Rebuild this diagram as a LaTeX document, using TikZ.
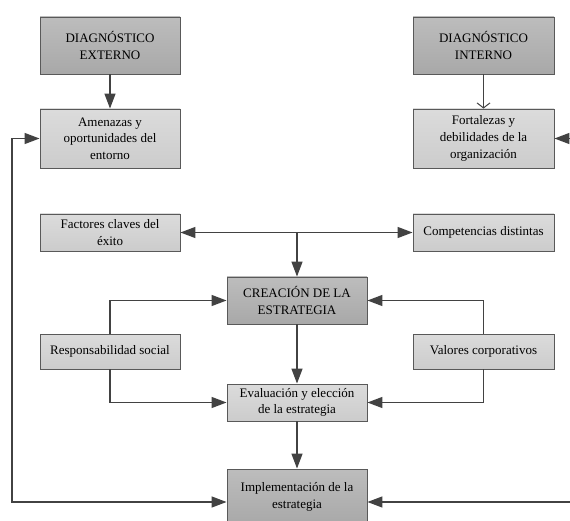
\documentclass[tikz,border=0pt]{standalone}
\usepackage{fontspec}
\setmainfont{Liberation Serif}
\usetikzlibrary{arrows.meta}
\definecolor{litetop}{gray}{0.86}
\definecolor{litebot}{gray}{0.80}
\definecolor{darktop}{gray}{0.74}
\definecolor{darkbot}{gray}{0.66}
\definecolor{edge}{gray}{0.35}
\definecolor{wire}{gray}{0.26}
\begin{document}
\begin{tikzpicture}[x=1pt,y=-1pt,
  box/.style={draw=edge, line width=0.9pt, align=center, inner sep=0pt,
    minimum width=140pt, font=\fontsize{13}{16.7}\selectfont, text=black},
  lite/.style={box, top color=litetop, bottom color=litebot},
  dark/.style={box, top color=darktop, bottom color=darkbot},
  link/.style={draw=wire, line width=1.4pt},
  tip/.style={-{Triangle[length=15pt,width=11pt]}},
  tipboth/.style={{Triangle[length=15pt,width=11pt]}-{Triangle[length=15pt,width=11pt]}},
  barb/.style={draw=wire, line width=1pt, -{Straight Barb[length=5pt,width=13pt]}}
]
\useasboundingbox (0,0) rectangle (570,521);
\clip (0,0) rectangle (570,521);

% diagnosis boxes
\node[dark, minimum height=57pt] (dext) at (110,45.5) {DIAGNÓSTICO\\EXTERNO};
\node[dark, minimum height=57pt, minimum width=141pt] (dint) at (483.5,45.5) {DIAGNÓSTICO\\INTERNO};
\node[lite, minimum height=59pt] (amen) at (110,138.5) {Amenazas y\\oportunidades del\\entorno};
\node[lite, minimum height=59pt, minimum width=141pt] (fort) at (483.5,138.5) {Fortalezas y\\debilidades de la\\organización};

% strategy inputs
\node[lite, minimum height=37pt] (fact) at (110,232.5) {Factores claves del\\éxito};
\node[lite, minimum height=37pt, minimum width=141pt] (comp) at (483.5,232.5) {Competencias distintas};
\node[dark, minimum height=47pt] (crea) at (297,300.5) {CREACIÓN DE LA\\ESTRATEGIA};
\node[lite, minimum height=35pt] (resp) at (110,351.5) {Responsabilidad social};
\node[lite, minimum height=35pt, minimum width=141pt] (valo) at (483.5,351.5) {Valores corporativos};
\node[lite, minimum height=37pt] (eval) at (297,402.5) {Evaluación y elección\\de la estrategia};
\node[dark, minimum height=56pt] (impl) at (297,497) {Implementación de la\\estrategia};

% junction and feedback corners
\coordinate (j) at (297,232.5);
\coordinate (lcorner) at (12,502);
\coordinate (rcorner) at (578,502);

% connectors
\draw[link, tip] (dext) -- (amen);
\draw[barb] (dint) -- (fort);
\draw[link, tipboth] (fact) -- (comp);
\draw[link, tip] (j) -- (crea);
\draw[link, tip] (resp.north) |- (crea.west);
\draw[link, tip] (valo.north) |- (crea.east);
\draw[link, tip] (resp.south) |- (eval.west);
\draw[link, tip] (valo.south) |- (eval.east);
\draw[link, tip] (crea) -- (eval);
\draw[link, tip] (eval) -- (impl);
\draw[link, tipboth] (amen.west) -| (lcorner) -- ([yshift=-5pt]impl.west);
\draw[link, tipboth] (fort.east) -| (rcorner) -- ([yshift=-5pt]impl.east);
\end{tikzpicture}
\end{document}
